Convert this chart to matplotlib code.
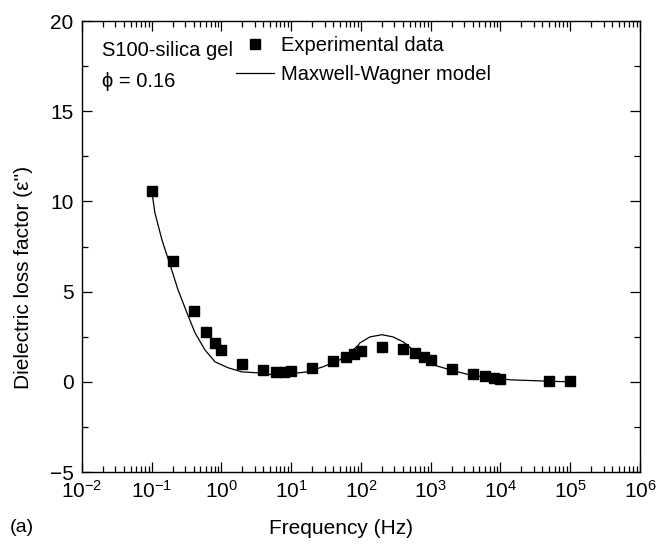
import matplotlib
matplotlib.use("Agg")
import matplotlib.pyplot as plt
from matplotlib.ticker import LogLocator, MultipleLocator

plt.rcParams["font.family"] = ["Liberation Sans", "DejaVu Sans"]
plt.rcParams["mathtext.fontset"] = "custom"
plt.rcParams["mathtext.rm"] = "Liberation Sans"
plt.rcParams["mathtext.it"] = "Liberation Sans"

freq_exp = [0.1, 0.2, 0.4, 0.6, 0.8, 1.0, 2.0, 4.0, 6.0, 8.0, 10.0,
            20.0, 40.0, 60.0, 80.0, 100.0, 200.0, 400.0, 600.0, 800.0, 1000.0,
            2000.0, 4000.0, 6000.0, 8000.0, 10000.0, 50000.0, 100000.0]
loss_exp = [10.59, 6.7, 3.94, 2.77, 2.16, 1.77, 1.0, 0.67, 0.57, 0.57, 0.6,
            0.78, 1.16, 1.39, 1.55, 1.72, 1.94, 1.83, 1.6, 1.39, 1.22,
            0.72, 0.44, 0.3, 0.22, 0.17, 0.07, 0.06]

# Maxwell-Wagner model curve
freq_model = [0.1, 0.111, 0.14, 0.183, 0.238, 0.32, 0.417, 0.579, 0.806, 1.24, 1.97,
              3.23, 5.47, 9.6, 16.8, 28.5, 50.0, 69.5, 87.7, 96.8, 134.6, 200.0,
              287.7, 400.0, 557.2, 774.5, 1076.0, 1888.0, 3311.0, 5129.0, 13800.0,
              51300.0, 100000.0]
loss_model = [10.59, 9.37, 7.87, 6.49, 5.1, 3.82, 2.72, 1.77, 1.11, 0.78, 0.55,
              0.5, 0.39, 0.44, 0.55, 0.83, 1.22, 1.66, 1.94, 2.16, 2.49, 2.61,
              2.49, 2.22, 1.77, 1.33, 0.94, 0.67, 0.42, 0.3, 0.11,
              0.03, 0.0]

x_ticks = [1e-2, 1e-1, 1e0, 1e1, 1e2, 1e3, 1e4, 1e5, 1e6]
y_ticks = [-5, 0, 5, 10, 15, 20]

fig = plt.figure(figsize=(6.58, 5.47), dpi=100)
ax = fig.add_axes([0.1246, 0.1371, 0.848, 0.8245])

ax.plot(freq_exp, loss_exp, "s", color="black", markersize=7,
        label="Experimental data")
ax.plot(freq_model, loss_model, "-", color="black", linewidth=0.9,
        label="Maxwell-Wagner model")

ax.set_xscale("log")
ax.set_xlim(1e-2, 1e6)
ax.set_ylim(-5, 20)
ax.set_xticks(x_ticks)
ax.set_yticks(y_ticks)
ax.xaxis.set_minor_locator(LogLocator(base=10, subs=range(2, 10), numticks=20))
ax.yaxis.set_minor_locator(MultipleLocator(2.5))

ax.tick_params(which="both", direction="in", top=True, right=True,
               labelsize=15, width=0.9)
ax.tick_params(which="major", length=7, pad=6)
ax.tick_params(which="minor", length=4)
for s in ax.spines.values():
    s.set_linewidth(1.0)

ax.set_xlabel("Frequency (Hz)", fontsize=15)
ax.xaxis.set_label_coords(0.465, -0.105)
ax.set_ylabel("Dielectric loss factor (\u03b5'')", fontsize=15)
ax.yaxis.set_label_coords(-0.088, 0.432)

ax.text(0.035, 0.935, "S100-silica gel", transform=ax.transAxes, fontsize=14.5,
        va="center", ha="left")
ax.text(0.035, 0.866, "\u03d5 = 0.16", transform=ax.transAxes, fontsize=14.5,
        va="center", ha="left")

leg = ax.legend(loc="upper left", bbox_to_anchor=(0.262, 0.985), frameon=False,
                fontsize=14.5, handlelength=1.9, handletextpad=0.3,
                labelspacing=0.5, borderaxespad=0)

fig.text(0.015, 0.035, "(a)", fontsize=14, ha="left", va="center")

fig.savefig("out.png", dpi=100)
